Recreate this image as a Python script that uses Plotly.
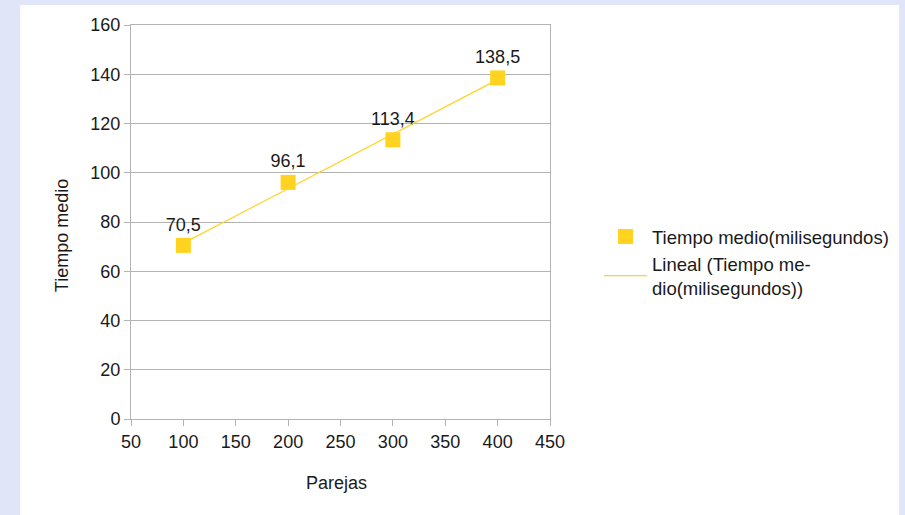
import numpy as np
import plotly.graph_objects as go

parejas = [100, 200, 300, 400]
tiempo = [70.5, 96.1, 113.4, 138.5]
etiquetas = ["70,5", "96,1", "113,4", "138,5"]
serie_nombre = "Tiempo medio(milisegundos)"
tendencia_nombre = "Lineal (Tiempo me-<br>dio(milisegundos))"
x_ticks = [50, 100, 150, 200, 250, 300, 350, 400, 450]
y_ticks = [0, 20, 40, 60, 80, 100, 120, 140, 160]

# linear trend line (least squares fit of the data)
slope, intercept = np.polyfit(parejas, tiempo, 1)
trend_x = [parejas[0], parejas[-1]]
trend_y = [slope * v + intercept for v in trend_x]

YELLOW = "#ffd320"
GRID = "#b3b3b3"
FONT = "Liberation Sans, Arial, sans-serif"
TXT = "#1a1a1a"
BG = "#e0e6f8"

fig = go.Figure()
fig.add_trace(go.Scatter(
    x=parejas, y=tiempo, mode="markers+text", name=serie_nombre,
    marker=dict(symbol="square", size=15, color=YELLOW),
    text=etiquetas, textposition="top center",
    textfont=dict(size=18, color=TXT, family=FONT),
    cliponaxis=False,
))
fig.add_trace(go.Scatter(
    x=trend_x, y=trend_y, mode="lines", name=tendencia_nombre,
    line=dict(color=YELLOW, width=1.2),
))

L, R, T, B = 131, 354, 25, 96
PW, PH = 905 - L - R, 515 - T - B

def px_x(p):
    return (p - L) / PW

def px_y(p):
    return (515 - B - p) / PH

fig.add_shape(type="rect", xref="paper", yref="paper",
              x0=px_x(20), x1=px_x(901), y0=px_y(520), y1=px_y(5),
              fillcolor="white", line=dict(width=0), layer="below")

fig.add_annotation(text="Tiempo medio", xref="paper", yref="paper",
                   x=px_x(62), y=px_y(236), textangle=-90, showarrow=False,
                   xanchor="center", yanchor="middle",
                   font=dict(size=18, color=TXT, family=FONT))
fig.add_annotation(text="Parejas", xref="paper", yref="paper",
                   x=px_x(337), y=px_y(483), showarrow=False,
                   xanchor="center", yanchor="middle",
                   font=dict(size=18, color=TXT, family=FONT))

fig.update_layout(
    width=905, height=515,
    margin=dict(l=L, r=R, t=T, b=B),
    paper_bgcolor=BG, plot_bgcolor="white",
    font=dict(family=FONT, size=18, color=TXT),
    showlegend=True,
    legend=dict(x=px_x(599), y=px_y(218), xanchor="left", yanchor="top",
                bgcolor="rgba(0,0,0,0)", font=dict(size=18.5, color=TXT),
                itemwidth=43, tracegroupgap=4),
    xaxis=dict(range=[50, 450], tickvals=x_ticks, showgrid=False,
               showline=True, linecolor=GRID, linewidth=1, mirror=True,
               ticks="outside", ticklen=6, tickcolor=GRID, zeroline=False,
               tickfont=dict(size=18, color=TXT)),
    yaxis=dict(range=[0, 160], tickvals=y_ticks, showgrid=True, gridcolor=GRID,
               showline=True, linecolor=GRID, linewidth=1, mirror=True,
               ticks="outside", ticklen=6, tickcolor=GRID, zeroline=False,
               tickfont=dict(size=18, color=TXT)),
)

fig.write_html(
    "out.html",
    config={"displayModeBar": False},
    post_script="document.body.style.margin='0';document.body.style.background='" + BG + "';",
)
